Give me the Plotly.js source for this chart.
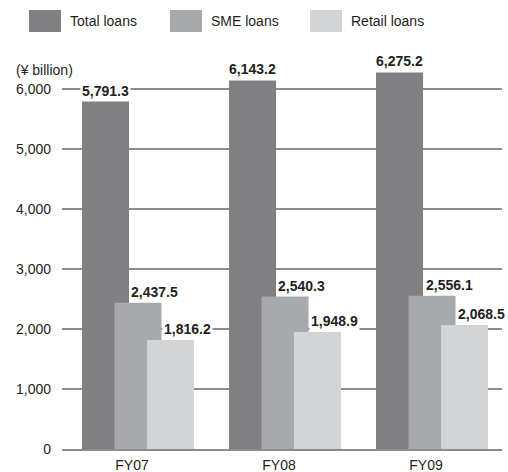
<!DOCTYPE html>
<html>
<head>
<meta charset="utf-8">
<script src="https://cdn.plot.ly/plotly-3.0.1.min.js"></script>
<style>html,body{margin:0;padding:0;background:#fff;}#chart{width:508px;height:472px;}</style>
</head>
<body>
<div id="chart"></div>
<script>
const categories = ["FY07", "FY08", "FY09"];
const seriesNames = ["Total loans", "SME loans", "Retail loans"];
const totalLoans = [5791.3, 6143.2, 6275.2];
const smeLoans = [2437.5, 2540.3, 2556.1];
const retailLoans = [1816.2, 1948.9, 2068.5];
const yTickValues = [0, 1000, 2000, 3000, 4000, 5000, 6000];
const yTickLabels = ["0", "1,000", "2,000", "3,000", "4,000", "5,000", "6,000"];

const seriesValues = [totalLoans, smeLoans, retailLoans];
const colors = ["#808083", "#a8a9ac", "#d3d4d6"];
const offsets = [-0.340, -0.119, 0.102];
const barWidth = 0.32;
const FONT = "Liberation Sans, Arial, Helvetica, sans-serif";

const L = 62, R = 502, T = 47, B = 449, W = 508, H = 472;
const px2x = p => (p - L) / (R - L);
const px2y = p => (B - p) / (B - T);

const traces = seriesValues.map((vals, s) => ({
  type: "bar",
  name: seriesNames[s],
  x: categories.map((c, i) => i),
  y: vals,
  width: barWidth,
  offset: offsets[s],
  marker: {color: colors[s], line: {width: 0}},
  hoverinfo: "skip",
  showlegend: false
}));

function fmt(v) {
  return v.toLocaleString("en-US", {minimumFractionDigits: 1, maximumFractionDigits: 1});
}

const annotations = [];
seriesValues.forEach((vals, s) => {
  vals.forEach((v, i) => {
    annotations.push({
      x: s === 0 ? i + offsets[s] + barWidth / 2 : i + offsets[s],
      y: v,
      xref: "x", yref: "y",
      text: fmt(v),
      showarrow: false,
      xanchor: s === 0 ? "center" : "left",
      yanchor: "bottom",
      xshift: s === 0 ? 0 : 15,
      yshift: 1,
      bgcolor: "#ffffff",
      borderpad: 1,
      font: {family: FONT, size: 14, color: "#231f20", weight: "bold"}
    });
  });
});

// unit label
annotations.push({
  x: px2x(14), y: px2y(70), xref: "paper", yref: "paper",
  text: "(¥ billion)", showarrow: false, xanchor: "left", yanchor: "middle",
  font: {family: FONT, size: 14, color: "#231f20"}
});

// custom legend
const shapes = [];
const legendSwatchX = [29, 170, 310];
seriesNames.forEach((n, s) => {
  const x0 = legendSwatchX[s];
  shapes.push({
    type: "rect", xref: "paper", yref: "paper",
    x0: px2x(x0), x1: px2x(x0 + 32), y0: px2y(32), y1: px2y(10),
    fillcolor: colors[s], line: {width: 0}
  });
  annotations.push({
    x: px2x(x0 + 39), y: px2y(21), xref: "paper", yref: "paper",
    text: n, showarrow: false, xanchor: "left", yanchor: "middle",
    font: {family: FONT, size: 14, color: "#231f20"}
  });
});

const layout = {
  width: W, height: H,
  margin: {l: L, r: W - R, t: T, b: H - B, pad: 0},
  paper_bgcolor: "#ffffff",
  plot_bgcolor: "#ffffff",
  barmode: "overlay",
  showlegend: false,
  font: {family: FONT, size: 14, color: "#231f20"},
  xaxis: {
    type: "linear",
    range: [-0.476, 2.517],
    tickvals: categories.map((c, i) => i),
    ticktext: categories,
    showgrid: false,
    zeroline: false,
    showline: true,
    linecolor: "#8c8c8e",
    linewidth: 2,
    ticks: "",
    ticklabelstandoff: 2,
    tickfont: {family: FONT, size: 14, color: "#231f20"},
    fixedrange: true
  },
  yaxis: {
    range: [0, 6700],
    tickvals: yTickValues,
    ticktext: yTickLabels,
    showgrid: true,
    gridcolor: "#8c8c8e",
    gridwidth: 2,
    zeroline: false,
    showline: false,
    ticks: "",
    ticklabelstandoff: 10,
    tickfont: {family: FONT, size: 14, color: "#231f20"},
    fixedrange: true
  },
  shapes: shapes,
  annotations: annotations
};

Plotly.newPlot("chart", traces, layout, {displayModeBar: false, staticPlot: true});
</script>
</body>
</html>
